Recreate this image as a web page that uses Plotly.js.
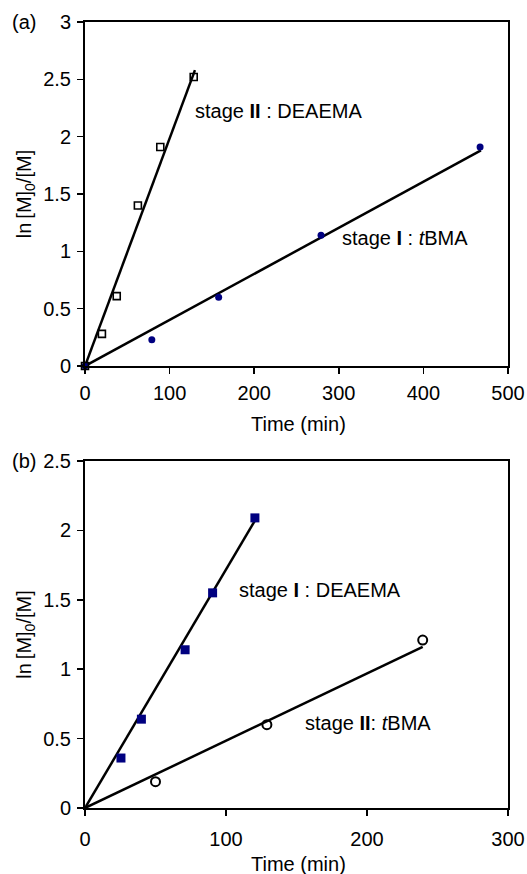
<!DOCTYPE html>
<html>
<head>
<meta charset="utf-8">
<script src="https://cdn.plot.ly/plotly-3.0.1.min.js"></script>
<style>html,body{margin:0;padding:0;background:#fff;}#chart{width:527px;height:874px;}</style>
</head>
<body>
<div id="chart"></div>
<script>
// Panel (a)
const a_deaema_t = [0, 20, 37.5, 62.5, 89, 128.5];
const a_deaema_y = [0, 0.28, 0.61, 1.40, 1.91, 2.52];
const a_deaema_fitT = [0, 130];
const a_deaema_fitY = [0, 2.58];
const a_tbma_t = [0, 79, 158, 279, 467];
const a_tbma_y = [0, 0.23, 0.60, 1.14, 1.91];
const a_tbma_fitT = [0, 468];
const a_tbma_fitY = [0, 1.88];
// Panel (b)
const b_deaema_t = [25.5, 40, 71, 90.5, 120.5];
const b_deaema_y = [0.36, 0.64, 1.14, 1.55, 2.09];
const b_deaema_fitT = [0, 120.5];
const b_deaema_fitY = [0, 2.07];
const b_tbma_t = [50, 129, 239.5];
const b_tbma_y = [0.19, 0.60, 1.21];
const b_tbma_fitT = [0, 239.5];
const b_tbma_fitY = [0, 1.16];

const navy = '#000080';
const F = 'Liberation Sans, Arial, sans-serif';
const FS = 20;
const lineStyle = {color: '#000', width: 2.5};

const traces = [
  {x: a_deaema_fitT, y: a_deaema_fitY, mode: 'lines', line: lineStyle, xaxis: 'x', yaxis: 'y'},
  {x: a_tbma_fitT, y: a_tbma_fitY, mode: 'lines', line: lineStyle, xaxis: 'x', yaxis: 'y'},
  {x: a_tbma_t, y: a_tbma_y, mode: 'markers', cliponaxis: false,
   marker: {symbol: 'circle', size: 7, color: navy}, xaxis: 'x', yaxis: 'y'},
  {x: a_deaema_t, y: a_deaema_y, mode: 'markers', cliponaxis: false,
   marker: {symbol: 'square-open', size: 7, color: '#000', line: {width: 1.6}}, xaxis: 'x', yaxis: 'y'},
  {x: b_deaema_fitT, y: b_deaema_fitY, mode: 'lines', line: lineStyle, xaxis: 'x2', yaxis: 'y2'},
  {x: b_tbma_fitT, y: b_tbma_fitY, mode: 'lines', line: lineStyle, xaxis: 'x2', yaxis: 'y2'},
  {x: b_deaema_t, y: b_deaema_y, mode: 'markers', cliponaxis: false,
   marker: {symbol: 'square', size: 9, color: navy}, xaxis: 'x2', yaxis: 'y2'},
  {x: b_tbma_t, y: b_tbma_y, mode: 'markers', cliponaxis: false,
   marker: {symbol: 'circle-open', size: 9, color: '#000', line: {width: 2}}, xaxis: 'x2', yaxis: 'y2'}
];

const axBase = {
  showgrid: false, zeroline: false, showline: true, linecolor: '#000', linewidth: 2,
  mirror: true, ticks: 'outside', ticklen: 6, tickwidth: 1.5, tickcolor: '#000',
  tickfont: {family: F, size: FS, color: '#000'}
};
const ytitle = {text: 'ln\u2009[M]<sub>0</sub>/[M]', font: {family: F, size: FS, color: '#000'}, standoff: 6};
const tf = {family: F, size: FS, color: '#000'};

const layout = {
  width: 527, height: 874,
  margin: {l: 85, r: 19, t: 22, b: 66},
  paper_bgcolor: '#fff', plot_bgcolor: '#fff',
  showlegend: false,
  font: {family: F, color: '#000'},
  xaxis: Object.assign({}, axBase, {domain: [0, 1], range: [0, 500], dtick: 100, anchor: 'y', ticklabelstandoff: 2}),
  yaxis: Object.assign({}, axBase, {domain: [0.5623, 1], range: [0, 3], dtick: 0.5, anchor: 'x', title: ytitle, ticklabelstandoff: 2}),
  xaxis2: Object.assign({}, axBase, {domain: [0, 1], range: [0, 300], dtick: 100, anchor: 'y2', ticklabelstandoff: 6}),
  yaxis2: Object.assign({}, axBase, {domain: [0, 0.4415], range: [0, 2.5], dtick: 0.5, anchor: 'x2', title: ytitle, ticklabelstandoff: 2}),
  annotations: [
    {text: 'Time (min)', xref: 'paper', yref: 'paper', x: 0.505, y: 0.4885, xanchor: 'center', yanchor: 'middle', showarrow: false, font: tf},
    {text: 'Time (min)', xref: 'paper', yref: 'paper', x: 0.505, y: -0.0712, xanchor: 'center', yanchor: 'middle', showarrow: false, font: tf},
    {text: '(a)', xref: 'paper', yref: 'paper', x: -0.145, y: 1, xanchor: 'center', yanchor: 'middle', showarrow: false, font: tf},
    {text: '(b)', xref: 'paper', yref: 'paper', x: -0.145, y: 0.4415, xanchor: 'center', yanchor: 'middle', showarrow: false, font: tf},
    {text: 'stage <b>II</b> : DEAEMA', xref: 'x', yref: 'y', x: 128, y: 2.22, xanchor: 'left', yanchor: 'middle', showarrow: false, font: tf},
    {text: 'stage <b>I</b> : <i>t</i>BMA', xref: 'x', yref: 'y', x: 301, y: 1.12, xanchor: 'left', yanchor: 'middle', showarrow: false, font: tf},
    {text: 'stage <b>I</b> : DEAEMA', xref: 'x2', yref: 'y2', x: 108, y: 1.57, xanchor: 'left', yanchor: 'middle', showarrow: false, font: tf},
    {text: 'stage <b>II</b>: <i>t</i>BMA', xref: 'x2', yref: 'y2', x: 154.5, y: 0.61, xanchor: 'left', yanchor: 'middle', showarrow: false, font: tf}
  ]
};

Plotly.newPlot('chart', traces, layout, {staticPlot: true, displayModeBar: false});
</script>
</body>
</html>
